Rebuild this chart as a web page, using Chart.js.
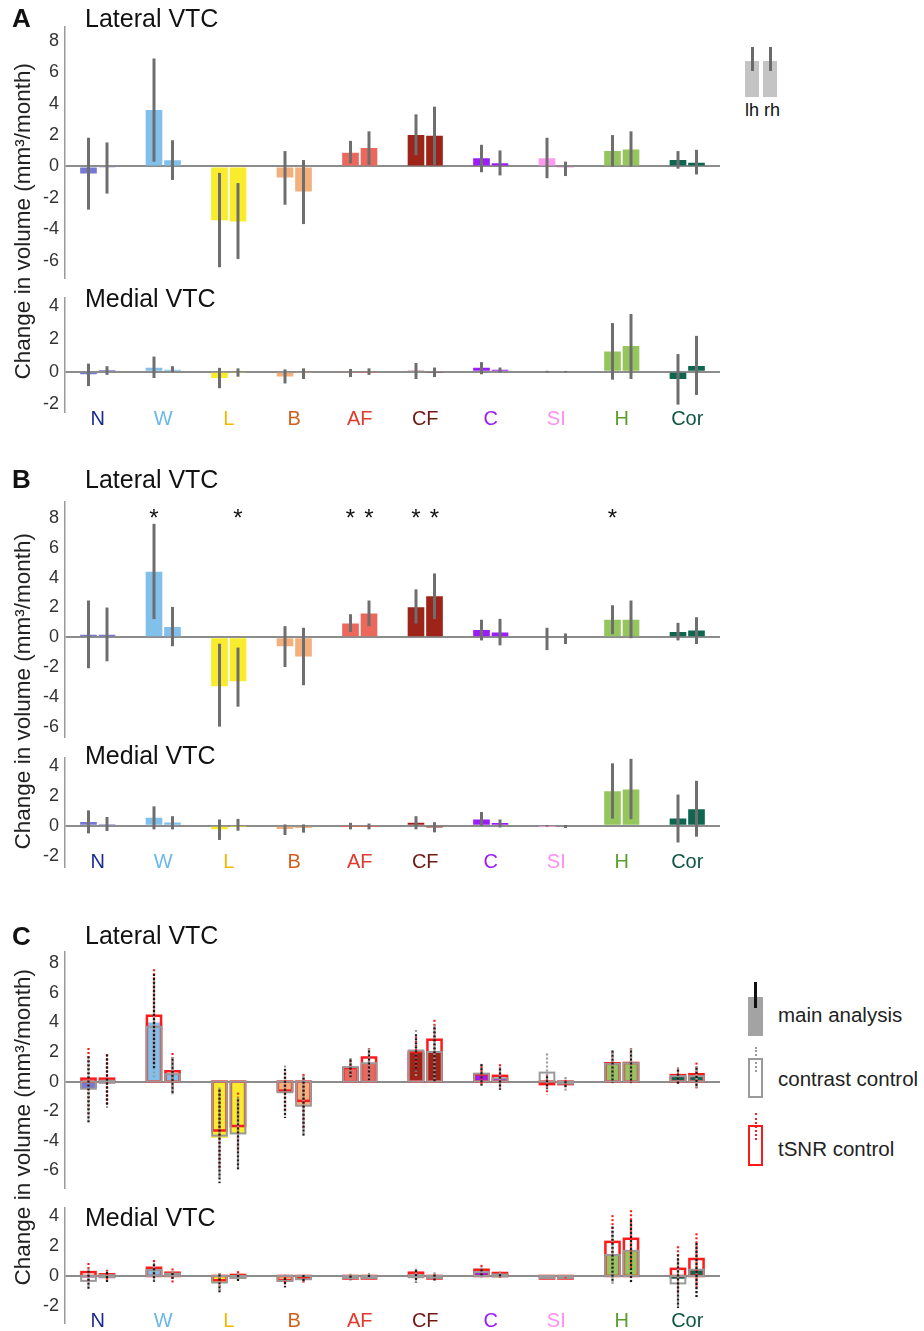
<!DOCTYPE html>
<html>
<head>
<meta charset="utf-8">
<script src="https://cdn.jsdelivr.net/npm/chart.js@4.4.1/dist/chart.umd.min.js"></script>
<style>
  body { margin: 0; background: #fff; }
  #fig { position: relative; width: 924px; height: 1331px; overflow: hidden;
         font-family: 'Liberation Sans', Arial, Helvetica, sans-serif; color: #111; }
  canvas { position: absolute; left: 0; }
  .txt { position: absolute; white-space: nowrap; line-height: 1; }
  .letter { font-weight: bold; font-size: 26px; }
  .sub { font-size: 25px; }
  .ytitle { font-size: 22.5px; width: 420px; height: 22.5px; text-align: center;
            transform: rotate(-90deg); color: #222; }
  .leg { font-size: 20.5px; color: #222; }
  .blk { position: absolute; box-sizing: border-box; }
</style>
</head>
<body>
<div id="fig">
  <canvas id="aLat"></canvas>
  <canvas id="aMed"></canvas>
  <canvas id="bLat"></canvas>
  <canvas id="bMed"></canvas>
  <canvas id="cLat"></canvas>
  <canvas id="cMed"></canvas>

  <div class="txt letter" style="left:12px;top:5px">A</div>
  <div class="txt sub" style="left:85px;top:6px">Lateral VTC</div>
  <div class="txt sub" style="left:85px;top:286px">Medial VTC</div>
  <div class="txt ytitle" style="left:-187px;top:210px">Change in volume (mm³/month)</div>

  <div class="txt letter" style="left:12px;top:466px">B</div>
  <div class="txt sub" style="left:85px;top:467px">Lateral VTC</div>
  <div class="txt sub" style="left:85px;top:743px">Medial VTC</div>
  <div class="txt ytitle" style="left:-187px;top:680px">Change in volume (mm³/month)</div>

  <div class="txt letter" style="left:12px;top:923px">C</div>
  <div class="txt sub" style="left:85px;top:923px">Lateral VTC</div>
  <div class="txt sub" style="left:85px;top:1205px">Medial VTC</div>
  <div class="txt ytitle" style="left:-187px;top:1116px">Change in volume (mm³/month)</div>

  <!-- lh / rh key -->
  <div class="blk" style="left:745px;top:61px;width:14px;height:36px;background:#c4c4c4"></div>
  <div class="blk" style="left:763px;top:61px;width:14px;height:36px;background:#c4c4c4"></div>
  <div class="blk" style="left:750.5px;top:47px;width:3px;height:24px;background:#6a6a6a"></div>
  <div class="blk" style="left:768.5px;top:47px;width:3px;height:24px;background:#6a6a6a"></div>
  <div class="txt" style="left:745px;top:101px;font-size:18px">lh</div>
  <div class="txt" style="left:764px;top:101px;font-size:18px">rh</div>

  <!-- panel C key -->
  <div class="blk" style="left:748px;top:997px;width:15px;height:39px;background:#a3a3a3"></div>
  <div class="blk" style="left:754px;top:982px;width:3px;height:26px;background:#111"></div>
  <div class="txt leg" style="left:778px;top:1005px">main analysis</div>
  <div class="blk" style="left:748px;top:1058px;width:15px;height:40px;border:2px solid #9a9a9a;background:#fff"></div>
  <div class="blk" style="left:754.5px;top:1047px;width:2px;height:25px;border-left:2px dotted #9a9a9a"></div>
  <div class="txt leg" style="left:778px;top:1069px">contrast control</div>
  <div class="blk" style="left:748px;top:1125px;width:15px;height:41px;border:2.5px solid #ff1a1a;background:#fff"></div>
  <div class="blk" style="left:754.5px;top:1113px;width:2px;height:27px;border-left:2.5px dotted #ff1a1a"></div>
  <div class="txt leg" style="left:778px;top:1139px">tSNR control</div>
</div>

<script>
// categories and colours
const categories = ['N', 'W', 'L', 'B', 'AF', 'CF', 'C', 'SI', 'H', 'Cor'];
const barColors = ['#7679d3', '#80c0ea', '#f8ec2c', '#f3b07c', '#ec675c',
                   '#9e2318', '#9c1cfc', '#ff9bef', '#95c65d', '#0f6650'];
const labelColors = ['#1b2a8f', '#6ab8ea', '#f5b800', '#d0601e', '#e03b2c',
                     '#6e1a14', '#9a1cfc', '#ff8ff0', '#5a9e2c', '#0e5745'];
const latTicks = [-6, -4, -2, 0, 2, 4, 6, 8];
const medTicks = [-2, 0, 2, 4];
const starLevel = 8;

// panel A, lateral
const aLatLh = [-0.45, 3.6, -3.42, -0.71, 0.88, 2.0, 0.53, 0.53, 0.98, 0.41];
const aLatRh = [-0.05, 0.4, -3.5, -1.59, 1.18, 1.96, 0.2, -0.1, 1.08, 0.24];
const aLatLhErr = [[-2.75, 1.83], [0.3, 6.88], [-6.42, -0.41], [-2.44, 0.98], [0.2, 1.63],
                   [0.71, 3.32], [-0.37, 1.38], [-0.75, 1.83], [0, 2.0], [-0.14, 0.98]];
const aLatRhErr = [[-1.73, 1.53], [-0.86, 1.67], [-5.9, -1.06], [-3.67, 0.41], [0.1, 2.24],
                   [0.1, 3.81], [-0.57, 1.02], [-0.61, 0.31], [0, 2.24], [-0.51, 1.06]];
// panel A, medial
const aMedLh = [-0.16, 0.23, -0.39, -0.29, -0.06, 0.04, 0.23, 0.0, 1.23, -0.45];
const aMedRh = [0.1, 0.12, -0.06, -0.08, -0.04, -0.06, 0.12, 0.0, 1.56, 0.35];
const aMedLhErr = [[-0.88, 0.49], [-0.39, 0.92], [-1.01, 0.23], [-0.72, 0.14], [-0.33, 0.16],
                   [-0.45, 0.53], [-0.16, 0.58], [-0.05, 0.05], [-0.49, 2.96], [-2.01, 1.07]];
const aMedRhErr = [[-0.2, 0.33], [-0.04, 0.33], [-0.31, 0.2], [-0.45, 0.2], [-0.2, 0.2],
                   [-0.33, 0.25], [-0.06, 0.25], [-0.04, 0.04], [-0.45, 3.51], [-1.42, 2.18]];

// panel B, lateral
const bLatLh = [0.17, 4.4, -3.28, -0.6, 0.92, 2.02, 0.49, -0.06, 1.18, 0.36];
const bLatRh = [0.17, 0.69, -2.96, -1.29, 1.59, 2.75, 0.32, -0.06, 1.18, 0.45];
const bLatLhErr = [[-2.08, 2.47], [1.22, 7.62], [-6.0, -0.43], [-2.0, 0.75], [0.36, 1.55],
                   [0.92, 3.22], [-0.21, 1.18], [-0.86, 0.64], [0.21, 2.15], [-0.21, 0.97]];
const bLatRhErr = [[-1.61, 2.0], [-0.6, 2.04], [-4.66, -0.69], [-3.22, 0.64], [0.75, 2.47],
                   [1.22, 4.29], [-0.54, 1.24], [-0.45, 0.26], [-0.06, 2.47], [-0.45, 1.35]];
const bLatLhStar = [false, true, false, false, true, true, false, false, true, false];
const bLatRhStar = [false, false, true, false, true, true, false, false, false, false];
// panel B, medial
const bMedLh = [0.26, 0.53, -0.24, -0.22, -0.02, 0.2, 0.42, -0.02, 2.31, 0.48];
const bMedRh = [0.11, 0.22, -0.04, -0.15, -0.02, -0.11, 0.18, -0.07, 2.42, 1.1];
const bMedLhErr = [[-0.51, 1.03], [-0.24, 1.3], [-0.95, 0.42], [-0.62, 0.09], [-0.24, 0.2],
                   [-0.24, 0.64], [0, 0.92], [-0.06, 0.04], [0.48, 4.18], [-1.12, 2.09]];
const bMedRhErr = [[-0.35, 0.59], [-0.24, 0.64], [-0.33, 0.46], [-0.46, 0.09], [-0.24, 0.15],
                   [-0.44, 0.24], [-0.11, 0.42], [-0.15, 0.05], [0.44, 4.48], [-0.73, 3.01]];

// panel C, lateral: main analysis, contrast control, tSNR control
const cLatMainLh = [-0.45, 4.0, -3.8, -0.72, 0.98, 1.96, 0.54, 0.0, 1.2, 0.37];
const cLatMainRh = [0.05, 0.55, -3.5, -1.63, 1.24, 2.0, 0.22, -0.05, 1.24, 0.37];
const cLatContrastLh = [-0.48, 3.7, -3.65, -0.72, 0.98, 2.1, 0.54, 0.61, 1.2, 0.37];
const cLatContrastRh = [0.05, 0.5, -3.5, -1.63, 1.24, 2.0, 0.22, -0.05, 1.24, 0.37];
const cLatTsnrLh = [0.2, 4.45, -3.3, -0.61, 0.92, 2.02, 0.49, -0.04, 1.24, 0.44];
const cLatTsnrRh = [0.2, 0.7, -3.0, -1.3, 1.63, 2.83, 0.39, -0.05, 1.26, 0.5];
// spread of the individual estimates (dot strips)
const cLatMainLhDots = [[-2.75, 1.83], [0.9, 7.4], [-6.86, -0.4], [-2.46, 1.0], [0.3, 1.63],
                        [0.7, 3.32], [-0.26, 1.31], [-0.5, 0.5], [-0.1, 2.24], [-0.22, 0.94]];
const cLatMainRhDots = [[-1.74, 1.96], [-0.87, 1.67], [-5.99, -1.06], [-3.7, 0.41], [0.1, 2.24],
                        [0, 3.81], [-0.54, 1.02], [-0.5, 0.17], [-0.1, 2.24], [-0.44, 1.06]];
const cLatContrastLhDots = [[-2.83, 1.5], [0.3, 6.9], [-6.5, -0.4], [-2.4, 1.09], [0.2, 1.6],
                            [0.33, 3.49], [-0.3, 1.2], [-0.6, 1.9], [0, 2.0], [-0.14, 0.98]];
const cLatContrastRhDots = [[-1.73, 1.53], [-0.86, 1.67], [-5.9, -1.06], [-3.67, 0.41], [0.1, 2.24],
                            [0.1, 3.81], [-0.57, 1.02], [-0.61, 0.31], [0, 2.24], [-0.51, 1.06]];
const cLatTsnrLhDots = [[-2.13, 2.4], [1.2, 7.73], [-6.0, -0.43], [-2.0, 0.75], [0.36, 1.55],
                        [0.92, 3.16], [-0.21, 1.18], [-0.87, 0.64], [0.21, 2.15], [-0.21, 0.97]];
const cLatTsnrRhDots = [[-1.61, 2.0], [-0.6, 2.07], [-4.66, -0.61], [-3.22, 0.65], [0.44, 2.4],
                        [1.22, 4.31], [-0.54, 1.31], [-0.45, 0.26], [-0.06, 2.4], [-0.45, 1.42]];

// panel C, medial
const cMedMainLh = [-0.1, 0.4, -0.44, -0.33, -0.05, 0.05, 0.26, -0.02, 1.41, -0.18];
const cMedMainRh = [0.05, 0.15, -0.05, -0.22, -0.04, -0.1, 0.1, -0.03, 1.69, 0.42];
const cMedContrastLh = [-0.33, 0.4, -0.44, -0.33, -0.05, 0.05, 0.26, -0.02, 1.41, -0.5];
const cMedContrastRh = [0.05, 0.15, -0.05, -0.22, -0.04, -0.1, 0.1, -0.03, 1.69, 0.42];
const cMedTsnrLh = [0.26, 0.55, -0.29, -0.29, -0.05, 0.22, 0.42, -0.03, 2.29, 0.48];
const cMedTsnrRh = [0.11, 0.22, 0.07, -0.15, -0.04, -0.1, 0.2, -0.03, 2.5, 1.14];
const cMedMainLhDots = [[-0.88, 0.49], [-0.39, 0.92], [-1.1, 0.23], [-0.77, 0.0], [-0.29, 0.15],
                        [-0.44, 0.53], [-0.1, 0.58], [-0.05, 0.05], [-0.5, 3.45], [-2.15, 1.58]];
const cMedMainRhDots = [[-0.44, 0.4], [-0.2, 0.33], [-0.33, 0.2], [-0.45, 0.2], [-0.2, 0.2],
                        [-0.29, 0.22], [-0.13, 0.25], [-0.05, 0.05], [-0.5, 3.89], [-1.49, 2.35]];
const cMedContrastLhDots = [[-0.88, 0.5], [-0.4, 0.9], [-1.0, 0.2], [-0.72, 0.1], [-0.29, 0.15],
                            [-0.45, 0.5], [-0.16, 0.58], [-0.05, 0.05], [-0.49, 2.96], [-2.01, 1.07]];
const cMedContrastRhDots = [[-0.2, 0.33], [-0.04, 0.33], [-0.31, 0.2], [-0.4, 0.04], [-0.2, 0.2],
                            [-0.33, 0.25], [-0.06, 0.25], [-0.04, 0.04], [-0.45, 3.51], [-1.42, 2.18]];
const cMedTsnrLhDots = [[-0.51, 1.0], [-0.24, 1.2], [-0.95, 0.33], [-0.62, 0.09], [-0.24, 0.2],
                        [-0.24, 0.6], [0, 0.88], [-0.06, 0.04], [0.48, 4.22], [-1.12, 2.13]];
const cMedTsnrRhDots = [[-0.35, 0.55], [-0.44, 0.64], [-0.33, 0.46], [-0.46, 0.09], [-0.24, 0.15],
                        [-0.44, 0.24], [-0.11, 0.42], [-0.15, 0.05], [0.44, 4.55], [-0.73, 3.0]];

const FONT = "'Liberation Sans', Arial, Helvetica, sans-serif";
const PAD_TOP = 12;
const AXIS_W = 65;
const PLOT_RIGHT = 720;
const errColor = '#6e6e6e';
const mainDotColor = '#1a1a1a';
const contrastColor = '#9a9a9a';
const tsnrColor = '#ff1a1a';
const clear = 'rgba(0,0,0,0)';

// vertical error lines at each bar centre
const errorBars = {
  id: 'errorBars',
  afterDatasetsDraw(chart) {
    const ctx = chart.ctx, y = chart.scales.y;
    chart.data.datasets.forEach((ds, i) => {
      if (!ds.errs) return;
      ctx.save();
      ctx.strokeStyle = errColor;
      ctx.lineWidth = 3;
      chart.getDatasetMeta(i).data.forEach((bar, j) => {
        ctx.beginPath();
        ctx.moveTo(bar.x, y.getPixelForValue(ds.errs[j][0]));
        ctx.lineTo(bar.x, y.getPixelForValue(ds.errs[j][1]));
        ctx.stroke();
      });
      ctx.restore();
    });
  }
};

// outline bars of the control analyses, on the same slots as the main bars
const controlBoxes = {
  id: 'controlBoxes',
  afterDatasetsDraw(chart) {
    const ctx = chart.ctx, y = chart.scales.y;
    chart.data.datasets.forEach((ds, i) => {
      if (!ds.boxes) return;
      const bars = chart.getDatasetMeta(i).data;
      ds.boxes.forEach(box => {
        ctx.save();
        ctx.strokeStyle = box.color;
        ctx.lineWidth = box.width;
        bars.forEach((bar, j) => {
          const y0 = y.getPixelForValue(0), y1 = y.getPixelForValue(box.values[j]);
          const lw = box.width;
          const left = bar.x - bar.width / 2 + lw / 2;
          const top = Math.min(y0, y1), h = Math.max(Math.abs(y1 - y0), lw);
          ctx.strokeRect(left, top, bar.width - lw, h);
        });
        ctx.restore();
      });
    });
  }
};

// dotted strips of individual estimates (panel C)
const dotStrips = {
  id: 'dotStrips',
  afterDatasetsDraw(chart) {
    const ctx = chart.ctx, y = chart.scales.y;
    const layers = [];
    chart.data.datasets.forEach((ds, i) => {
      (ds.dots || []).forEach(d => layers.push({ d, bars: chart.getDatasetMeta(i).data }));
    });
    layers.sort((a, b) => a.d.layer - b.d.layer);
    layers.forEach(({ d, bars }) => {
      ctx.save();
      ctx.strokeStyle = d.color;
      ctx.lineWidth = 2.2;
      ctx.setLineDash([2, 2]);
      ctx.lineDashOffset = d.layer * 2;
      bars.forEach((bar, j) => {
        ctx.beginPath();
        ctx.moveTo(bar.x, y.getPixelForValue(d.ranges[j][1]));
        ctx.lineTo(bar.x, y.getPixelForValue(d.ranges[j][0]));
        ctx.stroke();
      });
      ctx.restore();
    });
  }
};

// significance stars
const stars = {
  id: 'stars',
  afterDatasetsDraw(chart) {
    const ctx = chart.ctx, y = chart.scales.y;
    chart.data.datasets.forEach((ds, i) => {
      if (!ds.stars) return;
      ctx.save();
      ctx.fillStyle = '#111';
      ctx.font = '24px ' + FONT;
      ctx.textAlign = 'center';
      ctx.textBaseline = 'alphabetic';
      chart.getDatasetMeta(i).data.forEach((bar, j) => {
        if (ds.stars[j]) ctx.fillText('*', bar.x, y.getPixelForValue(starLevel) + 8);
      });
      ctx.restore();
    });
  }
};

function pairSets(lh, rh, lhErr, rhErr, lhStar, rhStar) {
  return [
    { data: lh, backgroundColor: barColors, errs: lhErr, stars: lhStar },
    { data: rh, backgroundColor: barColors, errs: rhErr, stars: rhStar }
  ];
}

function controlSets(main, contrast, tsnr, mainDots, contrastDots, tsnrDots) {
  return [0, 1].map(h => ({
    data: main[h],
    backgroundColor: barColors,
    boxes: [
      { values: tsnr[h], color: tsnrColor, width: 2.5 },
      { values: contrast[h], color: contrastColor, width: 2 }
    ],
    dots: [
      { ranges: tsnrDots[h], color: tsnrColor, layer: 1 },
      { ranges: contrastDots[h], color: contrastColor, layer: 2 },
      { ranges: mainDots[h], color: mainDotColor, layer: 3 }
    ]
  }));
}

function makeChart(id, area, range, tickList, datasets, labelLevel) {
  const cv = document.getElementById(id);
  const h = area.bottom - area.top;
  const padBottom = labelLevel === undefined ? PAD_TOP : 24;
  cv.width = PLOT_RIGHT + 2;
  cv.height = PAD_TOP + h + padBottom;
  cv.style.top = (area.top - PAD_TOP) + 'px';

  return new Chart(cv, {
    type: 'bar',
    data: { labels: categories, datasets },
    plugins: [errorBars, controlBoxes, dotStrips, stars],
    options: {
      responsive: false,
      animation: false,
      devicePixelRatio: 1,
      layout: { padding: { top: PAD_TOP, bottom: padBottom, left: 0, right: 2 } },
      datasets: { bar: { categoryPercentage: 0.565, barPercentage: 0.9 } },
      plugins: { legend: { display: false }, tooltip: { enabled: false } },
      scales: {
        x: {
          display: labelLevel !== undefined,
          position: labelLevel === undefined ? 'bottom' : { y: labelLevel },
          offset: true,
          grid: { display: false },
          border: { display: false },
          ticks: {
            color: c => labelColors[c.index],
            font: { size: 20, family: FONT },
            padding: 0,
            autoSkip: false,
            maxRotation: 0
          }
        },
        y: {
          min: range[0],
          max: range[1],
          afterBuildTicks: a => { a.ticks = tickList.map(v => ({ value: v })); },
          afterFit: a => { a.width = AXIS_W; },
          grid: {
            drawTicks: false,
            lineWidth: 2,
            color: c => (c.tick && c.tick.value === 0 ? '#8c8c8c' : clear)
          },
          border: { display: true, color: '#9a9a9a', width: 1.5 },
          ticks: { color: '#333', font: { size: 18, family: FONT }, padding: 6 }
        }
      }
    }
  });
}

makeChart('aLat', { top: 22, bottom: 283 }, [-7.12, 8.9], latTicks,
  pairSets(aLatLh, aLatRh, aLatLhErr, aLatRhErr));
makeChart('aMed', { top: 293, bottom: 412 }, [-2.46, 4.5], medTicks,
  pairSets(aMedLh, aMedRh, aMedLhErr, aMedRhErr), -1.7);

makeChart('bLat', { top: 497, bottom: 742 }, [-6.71, 9.1], latTicks,
  pairSets(bLatLh, bLatRh, bLatLhErr, bLatRhErr, bLatLhStar, bLatRhStar));
makeChart('bMed', { top: 753, bottom: 867 }, [-2.76, 4.55], medTicks,
  pairSets(bMedLh, bMedRh, bMedLhErr, bMedRhErr), -1.09);

makeChart('cLat', { top: 947, bottom: 1193 }, [-7.2, 8.77], latTicks,
  controlSets([cLatMainLh, cLatMainRh], [cLatContrastLh, cLatContrastRh], [cLatTsnrLh, cLatTsnrRh],
              [cLatMainLhDots, cLatMainRhDots], [cLatContrastLhDots, cLatContrastRhDots],
              [cLatTsnrLhDots, cLatTsnrRhDots]));
makeChart('cMed', { top: 1203, bottom: 1323 }, [-3.16, 4.58], medTicks,
  controlSets([cMedMainLh, cMedMainRh], [cMedContrastLh, cMedContrastRh], [cMedTsnrLh, cMedTsnrRh],
              [cMedMainLhDots, cMedMainRhDots], [cMedContrastLhDots, cMedContrastRhDots],
              [cMedTsnrLhDots, cMedTsnrRhDots]), -1.74);
</script>
</body>
</html>
